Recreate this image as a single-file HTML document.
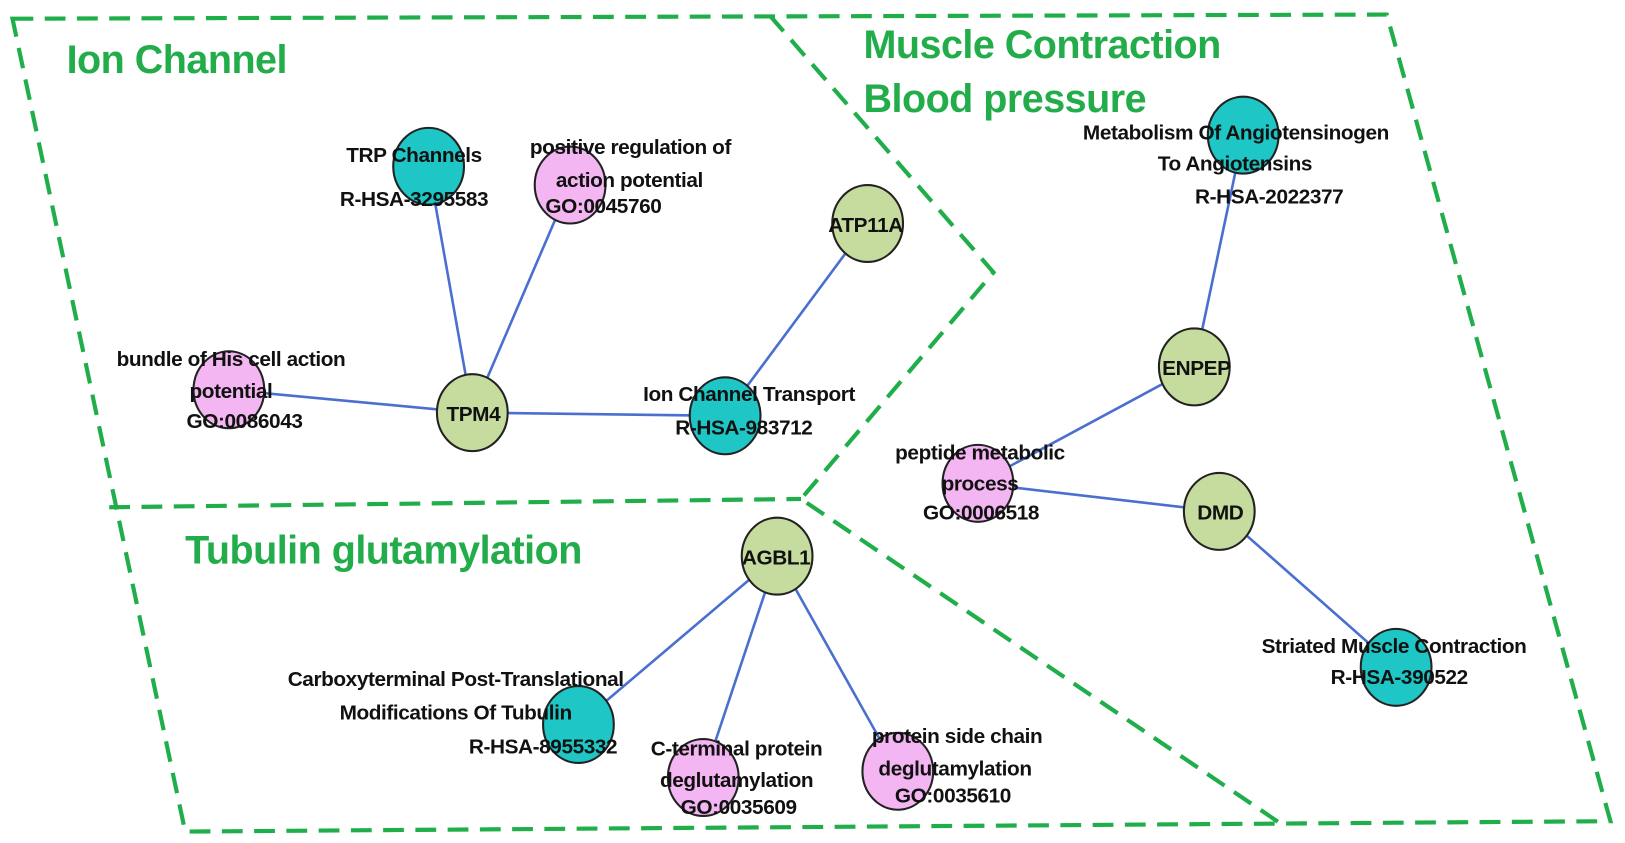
<!DOCTYPE html>
<html><head><meta charset="utf-8"><style>
html,body{margin:0;padding:0;background:#fff}
svg{display:block}
text{font-family:"Liberation Sans",sans-serif}
.l{font-size:20px;fill:#111;text-anchor:middle;letter-spacing:-0.4px;font-weight:bold}
.t{font-size:38px;fill:#22ad4a;font-weight:bold;letter-spacing:-0.5px}
.e{stroke:#4a6fcf;stroke-width:2.5}
.d{fill:none;stroke:#1fae4a;stroke-width:4;stroke-dasharray:20 11}
.n{stroke:#222;stroke-width:2}
</style></head><body>
<svg width="1625" height="843" viewBox="0 0 1562 811" preserveAspectRatio="none">
<path class="d" d="M12 18 L1333 14 L1548 790 L178 800 Z"/>
<path class="d" d="M740 15 L955 262 L770 480 L1235 795"/>
<path class="d" d="M105 488 L770 480"/>
<text class="t" x="64" y="70">Ion Channel</text>
<text class="t" x="830" y="56">Muscle Contraction</text>
<text class="t" x="830" y="108">Blood pressure</text>
<text class="t" x="178" y="542">Tubulin glutamylation</text>
<g class="e">
<line x1="412" y1="160" x2="454" y2="397"/>
<line x1="548" y1="178" x2="454" y2="397"/>
<line x1="220" y1="375" x2="454" y2="397"/>
<line x1="454" y1="397" x2="697" y2="400"/>
<line x1="834" y1="215" x2="697" y2="400"/>
<line x1="1195" y1="130" x2="1148" y2="353"/>
<line x1="1148" y1="353" x2="940" y2="465"/>
<line x1="940" y1="465" x2="1172" y2="492"/>
<line x1="1172" y1="492" x2="1342" y2="642"/>
<line x1="747" y1="535" x2="556" y2="697"/>
<line x1="747" y1="535" x2="676" y2="748"/>
<line x1="747" y1="535" x2="863" y2="742"/>
</g>
<g class="n">
<ellipse cx="412" cy="160" rx="34" ry="37" fill="#1ec6c6"/>
<ellipse cx="548" cy="178" rx="34" ry="37" fill="#f4b6f2"/>
<ellipse cx="834" cy="215" rx="34" ry="37" fill="#c6dc9e"/>
<ellipse cx="220" cy="375" rx="34" ry="37" fill="#f4b6f2"/>
<ellipse cx="454" cy="397" rx="34" ry="37" fill="#c6dc9e"/>
<ellipse cx="697" cy="400" rx="34" ry="37" fill="#1ec6c6"/>
<ellipse cx="1195" cy="130" rx="34" ry="37" fill="#1ec6c6"/>
<ellipse cx="1148" cy="353" rx="34" ry="37" fill="#c6dc9e"/>
<ellipse cx="940" cy="465" rx="34" ry="37" fill="#f4b6f2"/>
<ellipse cx="1172" cy="492" rx="34" ry="37" fill="#c6dc9e"/>
<ellipse cx="1342" cy="642" rx="34" ry="37" fill="#1ec6c6"/>
<ellipse cx="747" cy="535" rx="34" ry="37" fill="#c6dc9e"/>
<ellipse cx="556" cy="697" rx="34" ry="37" fill="#1ec6c6"/>
<ellipse cx="676" cy="748" rx="34" ry="37" fill="#f4b6f2"/>
<ellipse cx="863" cy="742" rx="34" ry="37" fill="#f4b6f2"/>
</g>
<g class="l">
<text x="398" y="156">TRP Channels</text>
<text x="398" y="198">R-HSA-3295583</text>
<text x="606" y="148">positive regulation of</text>
<text x="605" y="180">action potential</text>
<text x="580" y="205">GO:0045760</text>
<text x="832" y="223">ATP11A</text>
<text x="222" y="352">bundle of His cell action</text>
<text x="222" y="383">potential</text>
<text x="235" y="412">GO:0086043</text>
<text x="455" y="405">TPM4</text>
<text x="720" y="386">Ion Channel Transport</text>
<text x="715" y="418">R-HSA-983712</text>
<text x="1188" y="134">Metabolism Of Angiotensinogen</text>
<text x="1187" y="164">To Angiotensins</text>
<text x="1220" y="196">R-HSA-2022377</text>
<text x="1150" y="361">ENPEP</text>
<text x="942" y="442">peptide metabolic</text>
<text x="942" y="472">process</text>
<text x="943" y="500">GO:0006518</text>
<text x="1173" y="500">DMD</text>
<text x="1340" y="628">Striated Muscle Contraction</text>
<text x="1345" y="658">R-HSA-390522</text>
<text x="746" y="543">AGBL1</text>
<text x="438" y="660">Carboxyterminal Post-Translational</text>
<text x="438" y="692">Modifications Of Tubulin</text>
<text x="522" y="725">R-HSA-8955332</text>
<text x="708" y="727">C-terminal protein</text>
<text x="708" y="757">deglutamylation</text>
<text x="710" y="783">GO:0035609</text>
<text x="920" y="715">protein side chain</text>
<text x="918" y="746">deglutamylation</text>
<text x="916" y="772">GO:0035610</text>
</g>
</svg>
</body></html>
